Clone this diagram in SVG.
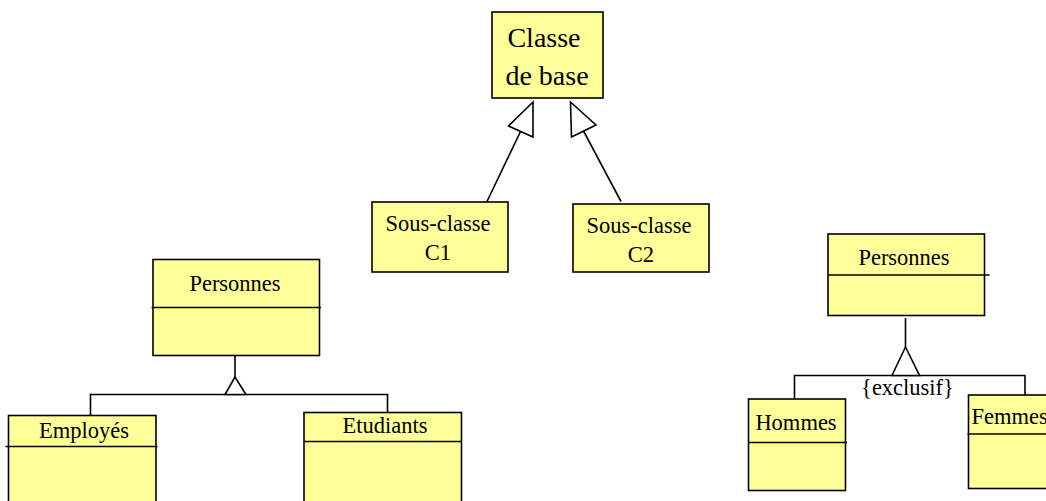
<svg xmlns="http://www.w3.org/2000/svg" width="1046" height="501" viewBox="0 0 1046 501">
  <style>
    .box { fill: #ffff99; stroke: #000; stroke-width: 1.6; }
    .sep { fill: none; stroke: #000; stroke-width: 1.6; }
    .wire { fill: none; stroke: #000; stroke-width: 1.6; }
    .tri { fill: #fff; stroke: #000; stroke-width: 1.6; stroke-linejoin: miter; }
    .lbl { font-family: "Liberation Serif", "Times New Roman", serif; font-size: 22.5px; fill: #000; text-anchor: middle; }
    .big { font-size: 28px; }
  </style>

  <!-- Generalisation: base class and two subclasses -->
  <g id="classe-base">
    <rect class="box" x="492" y="12" width="111" height="86"/>
    <text class="lbl big" x="544" y="47">Classe</text>
    <text class="lbl big" x="547" y="85">de base</text>
  </g>
  <g id="sous-classe-c1">
    <rect class="box" x="372" y="202" width="136" height="70"/>
    <text class="lbl" x="438" y="231">Sous-classe</text>
    <text class="lbl" x="438" y="260">C1</text>
  </g>
  <g id="sous-classe-c2">
    <rect class="box" x="573" y="204" width="136" height="68"/>
    <text class="lbl" x="639" y="233">Sous-classe</text>
    <text class="lbl" x="641" y="262">C2</text>
  </g>

  <!-- Personnes -> Employés / Etudiants -->
  <g id="personnes-gauche">
    <rect class="box" x="153" y="259.5" width="166.5" height="96"/>
    <line class="sep" x1="151.5" y1="307.5" x2="321" y2="307.5"/>
    <text class="lbl" x="235" y="291">Personnes</text>
  </g>
  <g id="employes">
    <rect class="box" x="8.5" y="415.5" width="147.5" height="100"/>
    <line class="sep" x1="5.5" y1="446.5" x2="157.5" y2="446.5"/>
    <text class="lbl" x="84" y="438">Employés</text>
  </g>
  <g id="etudiants">
    <rect class="box" x="304" y="412.5" width="157.5" height="100"/>
    <line class="sep" x1="304" y1="441.5" x2="461.5" y2="441.5"/>
    <text class="lbl" x="385" y="433">Etudiants</text>
  </g>

  <!-- Personnes -> Hommes / Femmes {exclusif} -->
  <g id="personnes-droite">
    <rect class="box" x="828" y="234" width="156.5" height="81.5"/>
    <line class="sep" x1="828" y1="275" x2="989.5" y2="275"/>
    <text class="lbl" x="904" y="265">Personnes</text>
  </g>
  <g id="hommes">
    <rect class="box" x="748.5" y="399" width="97" height="91.5"/>
    <line class="sep" x1="748.5" y1="442.5" x2="847" y2="442.5"/>
    <text class="lbl" x="796" y="429.5">Hommes</text>
  </g>
  <g id="femmes">
    <rect class="box" x="968.5" y="395" width="100" height="93.5"/>
    <line class="sep" x1="967.5" y1="434" x2="1050" y2="434"/>
    <text class="lbl" x="971.5" y="423.5" style="text-anchor:start">Femmes</text>
  </g>

  <g id="connecteurs">
    <!-- base class arrows -->
    <line class="wire" x1="487" y1="201.5" x2="520.5" y2="131.5"/>
    <polygon class="tri" points="533,102 508.5,126 533,137"/>
    <line class="wire" x1="621" y1="201.5" x2="583.5" y2="131"/>
    <polygon class="tri" points="570.5,102 571.5,137 596,125"/>

    <!-- left tree -->
    <line class="wire" x1="235" y1="356" x2="235" y2="377"/>
    <polyline class="wire" points="90.5,415.5 90.5,394.5 387.5,394.5 387.5,412.5"/>
    <polygon class="tri" points="235,377 225,394.5 246,394.5"/>

    <!-- right tree -->
    <line class="wire" x1="905.5" y1="318" x2="905.5" y2="347"/>
    <polyline class="wire" points="794.5,399 794.5,375.5 1025,375.5 1025,395"/>
    <polygon class="tri" points="905.5,347 892,375.5 919.5,375.5"/>
    <text class="lbl" x="907.5" y="395">{exclusif}</text>
  </g>
</svg>
